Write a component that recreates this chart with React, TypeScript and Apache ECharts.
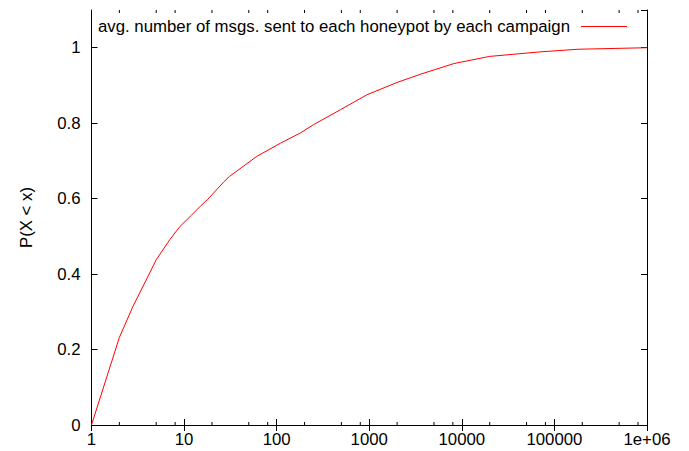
import React, { useEffect, useRef } from 'react';
import * as echarts from 'echarts';

// Empirical CDF of the average number of messages per honeypot per campaign
const cdfX = [1, 2, 2.8, 4, 5, 7, 9, 12, 15, 18, 27, 31, 61, 110, 180, 250, 490, 940, 2000, 3600, 8200, 20000, 70000, 180000, 1000000];
const cdfY = [0, 0.232, 0.314, 0.39, 0.438, 0.491, 0.526, 0.556, 0.58, 0.598, 0.645, 0.659, 0.712, 0.747, 0.774, 0.796, 0.836, 0.875, 0.908, 0.93, 0.958, 0.977, 0.989, 0.996, 1.0];

const seriesName = 'avg. number of msgs. sent to each honeypot by each campaign';
const yAxisTitle = 'P(X < x)';

// Minor tick positions on the log axis (2, 5 and 8 of each decade)
const minorTickValues = [
  2, 5, 8, 20, 50, 80, 200, 500, 800, 2000, 5000, 8000,
  20000, 50000, 80000, 200000, 500000, 800000,
];

const FONT = '"Liberation Sans", Arial, Helvetica, sans-serif';
const FONT_SIZE = 16.8;

export default function App() {
  const ref = useRef<HTMLDivElement>(null);

  useEffect(() => {
    if (!ref.current) return;
    const chart = echarts.init(ref.current, undefined, { renderer: 'svg' });

    const frameLine = { show: true, lineStyle: { color: '#000', width: 1 } };
    const tickIn = { show: true, inside: true, length: 6, lineStyle: { color: '#000', width: 1 } };

    chart.setOption({
      animation: false,
      backgroundColor: '#fff',
      textStyle: { fontFamily: FONT },
      grid: { left: 91.5, right: 42, top: 10, bottom: 26, containLabel: false },
      legend: {
        data: [{ name: seriesName, icon: 'rect' }],
        right: 62,
        top: 18,
        padding: 0,
        align: 'right',
        itemWidth: 46,
        itemHeight: 1.2,
        itemStyle: { color: '#ff0000' },
        textStyle: { fontFamily: FONT, fontSize: FONT_SIZE, color: '#000', padding: [0, 6, 0, 0] },
      },
      xAxis: [
        {
          type: 'log',
          logBase: 10,
          min: 1,
          max: 1000000,
          position: 'bottom',
          axisLine: frameLine,
          axisTick: tickIn,
          splitLine: { show: false },
          axisLabel: {
            color: '#000',
            fontFamily: FONT,
            fontSize: FONT_SIZE,
            margin: 6,
            formatter: (v: number) => (v >= 1000000 ? '1e+06' : String(Math.round(v))),
          },
        },
        {
          type: 'log',
          logBase: 10,
          min: 1,
          max: 1000000,
          position: 'top',
          axisLine: frameLine,
          axisTick: tickIn,
          splitLine: { show: false },
          axisLabel: { show: false },
        },
      ],
      yAxis: [
        {
          type: 'value',
          min: 0,
          max: 1.1,
          interval: 0.2,
          position: 'left',
          name: yAxisTitle,
          nameLocation: 'middle',
          nameGap: 57,
          nameTextStyle: { fontFamily: FONT, fontSize: FONT_SIZE, color: '#000' },
          axisLine: frameLine,
          axisTick: tickIn,
          splitLine: { show: false },
          axisLabel: {
            color: '#000',
            fontFamily: FONT,
            fontSize: FONT_SIZE,
            margin: 11,
            showMaxLabel: false,
            formatter: (v: number) => (v > 1.05 ? '' : String(Math.round(v * 10) / 10)),
          },
        },
        {
          type: 'value',
          min: 0,
          max: 1.1,
          interval: 0.2,
          position: 'right',
          axisLine: frameLine,
          axisTick: tickIn,
          splitLine: { show: false },
          axisLabel: { show: false },
        },
      ],
      series: [
        {
          name: seriesName,
          type: 'line',
          xAxisIndex: 0,
          yAxisIndex: 0,
          data: cdfX.map((x, i) => [x, cdfY[i]]),
          showSymbol: false,
          symbol: 'none',
          lineStyle: { color: '#ff0000', width: 1 },
          itemStyle: { color: '#ff0000' },
        },
        {
          name: 'minorTicks',
          type: 'custom',
          xAxisIndex: 0,
          yAxisIndex: 0,
          silent: true,
          clip: false,
          data: minorTickValues.map((v) => [v]),
          encode: { x: 0 },
          renderItem: (_params: any, api: any) => {
            const v = api.value(0);
            const b = api.coord([v, 0]);
            const t = api.coord([v, 1.1]);
            const style = { stroke: '#000', lineWidth: 1 };
            return {
              type: 'group',
              children: [
                { type: 'line', shape: { x1: b[0], y1: b[1], x2: b[0], y2: b[1] - 3 }, style },
                { type: 'line', shape: { x1: t[0], y1: t[1], x2: t[0], y2: t[1] + 3 }, style },
              ],
            };
          },
        },
      ],
    });

    return () => chart.dispose();
  }, []);

  return (
    <div
      ref={ref}
      style={{ position: 'fixed', left: 0, top: 0, width: 689, height: 451, overflow: 'hidden' }}
    />
  );
}
